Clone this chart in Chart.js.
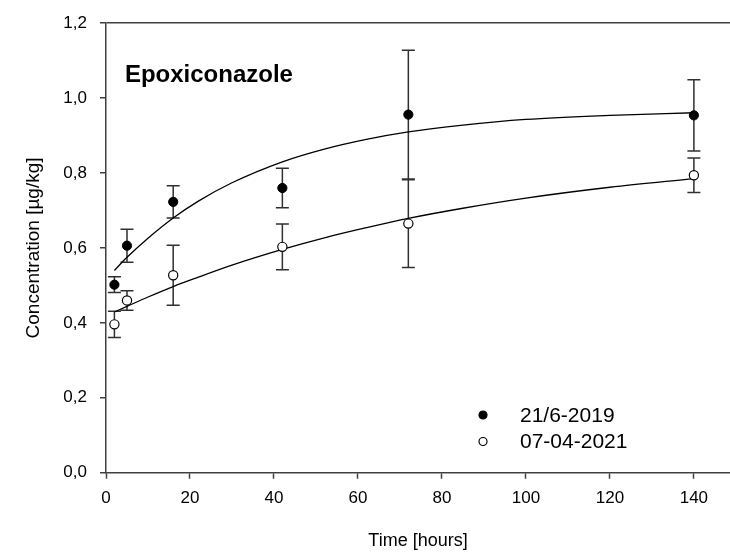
<!DOCTYPE html>
<html><head><meta charset="utf-8">
<script src="https://cdn.jsdelivr.net/npm/chart.js@4"></script>
<style>html,body{margin:0;padding:0;background:#fff;} canvas{display:block;}</style>
</head><body>
<canvas id="c" width="730" height="552"></canvas>
<script>
// ---- data ----
const chartTitle = 'Epoxiconazole';
const seriesLabels = ['21/6-2019', '07-04-2021'];
const timePoints = [2, 5, 16, 42, 72, 140];
const mean2019 = [0.502, 0.606, 0.723, 0.760, 0.956, 0.954];
const err2019  = [0.021, 0.044, 0.043, 0.053, 0.172, 0.095];
const mean2021 = [0.396, 0.460, 0.527, 0.603, 0.665, 0.794];
const err2021  = [0.035, 0.026, 0.080, 0.061, 0.117, 0.046];
// fitted curves
const fitTimes = [2, 5, 10, 16, 22, 30, 42, 52, 62, 72, 85, 100, 120, 140];
const fit2019  = [0.540, 0.575, 0.626, 0.680, 0.725, 0.774, 0.830, 0.864, 0.890, 0.910, 0.928, 0.943, 0.954, 0.961];
const fit2021  = [0.429, 0.444, 0.469, 0.497, 0.522, 0.554, 0.596, 0.627, 0.654, 0.679, 0.706, 0.733, 0.762, 0.785];
const xTicks = [0, 20, 40, 60, 80, 100, 120, 140];
const yTicks = [0, 0.2, 0.4, 0.6, 0.8, 1.0, 1.2];
const xAxisTitle = 'Time [hours]';
const yAxisTitle = 'Concentration [µg/kg]';

// ---- styling ----
const AXIS = '#404040';
const FONT = "'Liberation Sans', Arial, sans-serif";
const xMin = 0, xMax = 148.6, yMin = 0, yMax = 1.2;

const toXY = (xs, ys) => xs.map((x, i) => ({x: x, y: ys[i]}));

const errorBarPlugin = {
  id: 'errorBars',
  beforeDatasetsDraw(chart) {
    const ctx = chart.ctx, xs = chart.scales.x, ys = chart.scales.y;
    const sets = [[mean2019, err2019], [mean2021, err2021]];
    ctx.save();
    ctx.strokeStyle = '#303030';
    ctx.lineWidth = 1.5;
    const cap = 6.5;
    sets.forEach(([m, e]) => {
      timePoints.forEach((t, i) => {
        const px = xs.getPixelForValue(t);
        const yt = ys.getPixelForValue(m[i] + e[i]);
        const yb = ys.getPixelForValue(m[i] - e[i]);
        ctx.beginPath();
        ctx.moveTo(px, yt); ctx.lineTo(px, yb);
        ctx.moveTo(px - cap, yt); ctx.lineTo(px + cap, yt);
        ctx.moveTo(px - cap, yb); ctx.lineTo(px + cap, yb);
        ctx.stroke();
      });
    });
    ctx.restore();
  }
};

const annotPlugin = {
  id: 'annot',
  afterDraw(chart) {
    const ctx = chart.ctx, xs = chart.scales.x, ys = chart.scales.y;
    ctx.save();
    // panel title
    ctx.fillStyle = '#000';
    ctx.font = 'bold 24px ' + FONT;
    ctx.textBaseline = 'middle';
    ctx.textAlign = 'left';
    ctx.fillText(chartTitle, xs.getPixelForValue(4.5), ys.getPixelForValue(1.06));
    // legend
    const lx = 483, ly = [415, 441.5];
    ctx.font = '21px ' + FONT;
    seriesLabels.forEach((lab, i) => {
      ctx.beginPath();
      ctx.arc(lx, ly[i], 4, 0, Math.PI * 2);
      ctx.fillStyle = i === 0 ? '#000' : '#fff';
      ctx.fill();
      ctx.lineWidth = 1.2;
      ctx.strokeStyle = '#000';
      ctx.stroke();
      ctx.fillStyle = '#000';
      ctx.fillText(lab, 520, ly[i] + 1);
    });
    ctx.restore();
  }
};

new Chart(document.getElementById('c'), {
  type: 'scatter',
  data: {
    datasets: [
      {label: 'fit ' + seriesLabels[0], type: 'line', data: toXY(fitTimes, fit2019),
       borderColor: '#000', borderWidth: 1.3, pointRadius: 0, fill: false,
       cubicInterpolationMode: 'monotone', order: 3},
      {label: 'fit ' + seriesLabels[1], type: 'line', data: toXY(fitTimes, fit2021),
       borderColor: '#000', borderWidth: 1.3, pointRadius: 0, fill: false,
       cubicInterpolationMode: 'monotone', order: 3},
      {label: seriesLabels[0], data: toXY(timePoints, mean2019),
       pointRadius: 4.6, pointBackgroundColor: '#000', pointBorderColor: '#000',
       pointBorderWidth: 1, showLine: false, order: 1},
      {label: seriesLabels[1], data: toXY(timePoints, mean2021),
       pointRadius: 4.6, pointBackgroundColor: '#fff', pointBorderColor: '#000',
       pointBorderWidth: 1.2, showLine: false, order: 1}
    ]
  },
  options: {
    responsive: false,
    animation: false,
    devicePixelRatio: 1,
    layout: {autoPadding: false, padding: {top: 20, right: 0, left: 0, bottom: 0}},
    plugins: {legend: {display: false}, tooltip: {enabled: false}, title: {display: false}},
    scales: {
      x: {
        type: 'linear', min: xMin, max: xMax,
        afterBuildTicks: s => { s.ticks = xTicks.map(v => ({value: v})); },
        afterFit: s => { s.height = 79.3; s.paddingRight = 0; s.paddingLeft = 0; },
        ticks: {color: '#000', font: {family: FONT, size: 17}, padding: 9,
                maxRotation: 0, autoSkip: false, callback: v => String(v)},
        grid: {drawOnChartArea: false, tickLength: 6, tickColor: AXIS, tickWidth: 1.5},
        border: {display: true, color: AXIS, width: 1.5},
        title: {display: true, text: xAxisTitle, color: '#000',
                font: {family: FONT, size: 18}, padding: {top: 0, bottom: 0}}
      },
      y: {
        type: 'linear', min: yMin, max: yMax,
        afterBuildTicks: s => { s.ticks = yTicks.map(v => ({value: v})); },
        afterFit: s => { s.width = 106; },
        ticks: {color: '#000', font: {family: FONT, size: 17}, padding: 13,
                callback: v => Number(v).toFixed(1).replace('.', ',')},
        grid: {drawOnChartArea: true, tickLength: 6, tickColor: AXIS, tickWidth: 1.5,
               lineWidth: 1.5,
               color: c => (c.tick && Math.abs(c.tick.value - yMax) < 1e-6) ? AXIS : 'rgba(0,0,0,0)'},
        border: {display: true, color: AXIS, width: 1.5},
        title: {display: true, text: yAxisTitle, color: '#000',
                font: {family: FONT, size: 19}, padding: {top: 22, bottom: 0}}
      }
    }
  },
  plugins: [errorBarPlugin, annotPlugin]
});
</script>
</body></html>
